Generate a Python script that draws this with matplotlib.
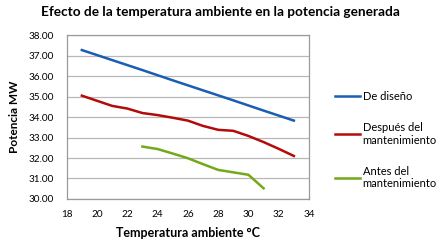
import matplotlib
matplotlib.use('Agg')

import matplotlib.pyplot as plt

# Datos
temp_diseno = [19, 21, 23, 25, 27, 29, 31, 33]
pot_diseno = [37.28, 36.79, 36.30, 35.80, 35.31, 34.82, 34.32, 33.83]

temp_despues = [19, 20, 21, 22, 23, 24, 25, 26, 27, 28, 29, 30, 31, 32, 33]
pot_despues = [35.05, 34.80, 34.55, 34.42, 34.20, 34.10, 33.97, 33.83,
               33.57, 33.38, 33.33, 33.08, 32.78, 32.45, 32.10]

temp_antes = [23, 24, 25, 26, 27, 28, 29, 30, 31]
pot_antes = [32.56, 32.44, 32.22, 31.99, 31.70, 31.42, 31.30, 31.18, 30.52]

x_ticks = list(range(18, 35, 2))
y_ticks = [30 + i for i in range(9)]

plt.rcParams['font.family'] = ['Lato', 'DejaVu Sans']

fig = plt.figure(figsize=(4.4, 2.42), dpi=100)
ax = fig.add_axes([0.1516, 0.178, 0.5507, 0.676])

ax.plot(temp_diseno, pot_diseno, color='#1a5db3', lw=1.8, label='De diseño')
ax.plot(temp_despues, pot_despues, color='#b30a0a', lw=1.8, label='Después del\nmantenimiento')
ax.plot(temp_antes, pot_antes, color='#74a819', lw=1.8, label='Antes del\nmantenimiento')

ax.set_xlim(18, 34)
ax.set_ylim(30, 38)
ax.set_xticks(x_ticks)
ax.set_yticks(y_ticks)
ax.set_yticklabels([f'{v:.2f}' for v in y_ticks])
ax.tick_params(length=0, labelsize=7.2)
ax.tick_params(axis='y', pad=9)
ax.tick_params(axis='x', pad=8)
ax.grid(True, axis='y', color='#b8b8b8', lw=0.9)
for s in ax.spines.values():
    s.set_color('#9a9a9a')
    s.set_linewidth(0.9)

ax.set_xlabel('Temperatura ambiente °C', fontsize=9, fontweight='bold', labelpad=6)
ax.set_ylabel('Potencia MW', fontsize=8.5, fontweight='bold', labelpad=6)
fig.suptitle('Efecto de la temperatura ambiente en la potencia generada',
             fontsize=9.8, fontweight='bold', x=0.5, y=0.975)

ax.legend(loc='center left', bbox_to_anchor=(1.107, 0.36), frameon=False,
          fontsize=8, handlelength=2.3, handletextpad=0.2, labelspacing=1.8,
          borderpad=0, borderaxespad=0)

plt.savefig('out.png', dpi=100)
plt.close(fig)
